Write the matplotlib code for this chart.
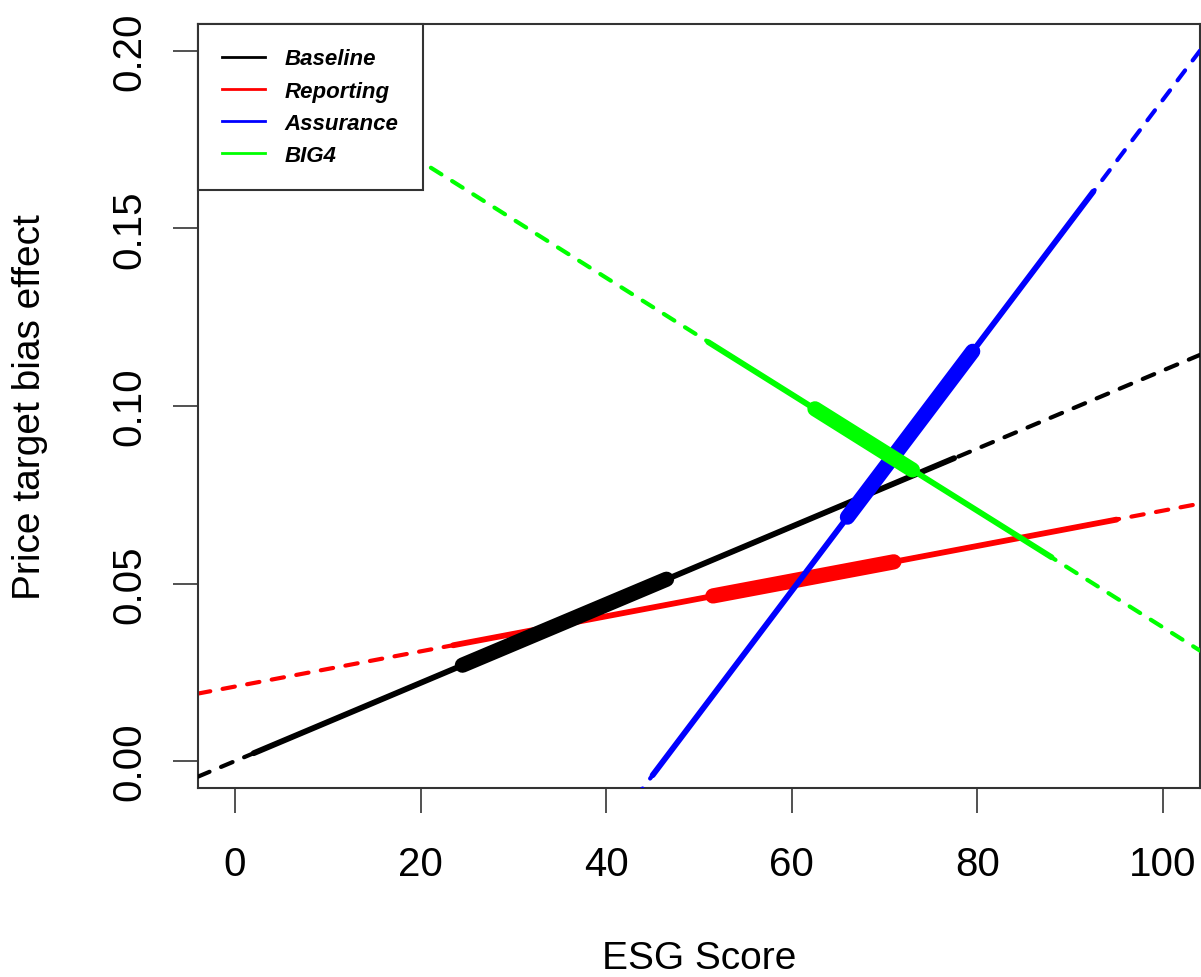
import matplotlib
matplotlib.use("Agg")
import matplotlib.pyplot as plt
from matplotlib.lines import Line2D

plt.rcParams['font.family'] = ['Liberation Sans', 'DejaVu Sans']

# ESG score breakpoints / effect values
# order: dashed start, solid start, thick start, thick end, solid end, dashed end
baseline_x = [-4, 2, 24.5, 46.5, 77.5, 104]
baseline_y = [-0.0044, 0.0022, 0.0270, 0.0512, 0.0853, 0.1144]

reporting_x = [-4, 23.5, 51.5, 71, 95, 104]
reporting_y = [0.0190, 0.0326, 0.0465, 0.0561, 0.0680, 0.0725]

assurance_x = [-4, 45, 66, 79.5, 92.5, 104]
assurance_y = [-0.1735, -0.0040, 0.0687, 0.1154, 0.1604, 0.2001]

big4_x = [-4, 51, 62.5, 73, 88, 104]
big4_y = [0.2083, 0.1180, 0.0992, 0.0820, 0.0574, 0.0311]

labels = ['Baseline', 'Reporting', 'Assurance', 'BIG4']
colors = ['black', '#ff0000', '#0000ff', '#00ff00']
xticks = [0, 20, 40, 60, 80, 100]
yticks = [0.00, 0.05, 0.10, 0.15, 0.20]

series = {
    'Baseline': (baseline_x, baseline_y),
    'Reporting': (reporting_x, reporting_y),
    'Assurance': (assurance_x, assurance_y),
    'BIG4': (big4_x, big4_y),
}
zorders = {'Reporting': 2, 'Baseline': 3, 'Assurance': 4, 'BIG4': 5}

fig = plt.figure(figsize=(12.01, 9.78), dpi=100)
ax = fig.add_axes([198 / 1201, 1 - 789 / 978, 1002 / 1201, 764 / 978])

for name, color in zip(labels, colors):
    xs, ys = series[name]
    z = zorders[name]
    # dashed over the full range
    ax.plot([xs[0], xs[5]], [ys[0], ys[5]], color=color, lw=3.0,
            linestyle=(0, (3, 3)), dash_capstyle='round', zorder=z)
    # solid over the middle range
    ax.plot([xs[1], xs[4]], [ys[1], ys[4]], color=color, lw=4.2,
            solid_capstyle='round', zorder=z + 0.1)
    # thick over the core range
    ax.plot([xs[2], xs[3]], [ys[2], ys[3]], color=color, lw=11,
            solid_capstyle='round', zorder=z + 0.2)

ax.set_xlim(-4, 104)
ax.set_ylim(-0.0076, 0.2076)
ax.set_xticks(xticks)
ax.set_yticks(yticks)
ax.set_xticklabels([str(t) for t in xticks])
ax.set_yticklabels([f"{t:.2f}" for t in yticks])

ax.tick_params(axis='both', direction='out', length=18, width=1.2,
               labelsize=29, color='#333333')
ax.tick_params(axis='x', pad=23)
ax.tick_params(axis='y', pad=18, labelrotation=90)
for lab in ax.get_yticklabels():
    lab.set_va('center')

for sp in ax.spines.values():
    sp.set_linewidth(1.5)
    sp.set_color('#333333')

ax.set_xlabel('ESG Score', fontsize=28, va='center')
ax.xaxis.set_label_coords(0.5, -0.222)
ax.set_ylabel('Price target bias effect', fontsize=28, va='center')
ax.yaxis.set_label_coords(-0.1677, 0.5)

handles = [Line2D([0], [0], color=c, lw=2) for c in colors]
leg = ax.legend(handles, labels, loc='upper left', borderaxespad=0,
                fancybox=False, framealpha=1, edgecolor='#333333',
                prop={'size': 16, 'weight': 'bold', 'style': 'italic'},
                handlelength=1.9, handletextpad=0.9, labelspacing=0.5,
                borderpad=1.1)
leg.get_frame().set_linewidth(1.5)
leg.set_zorder(10)

fig.savefig('out.png', dpi=100)
